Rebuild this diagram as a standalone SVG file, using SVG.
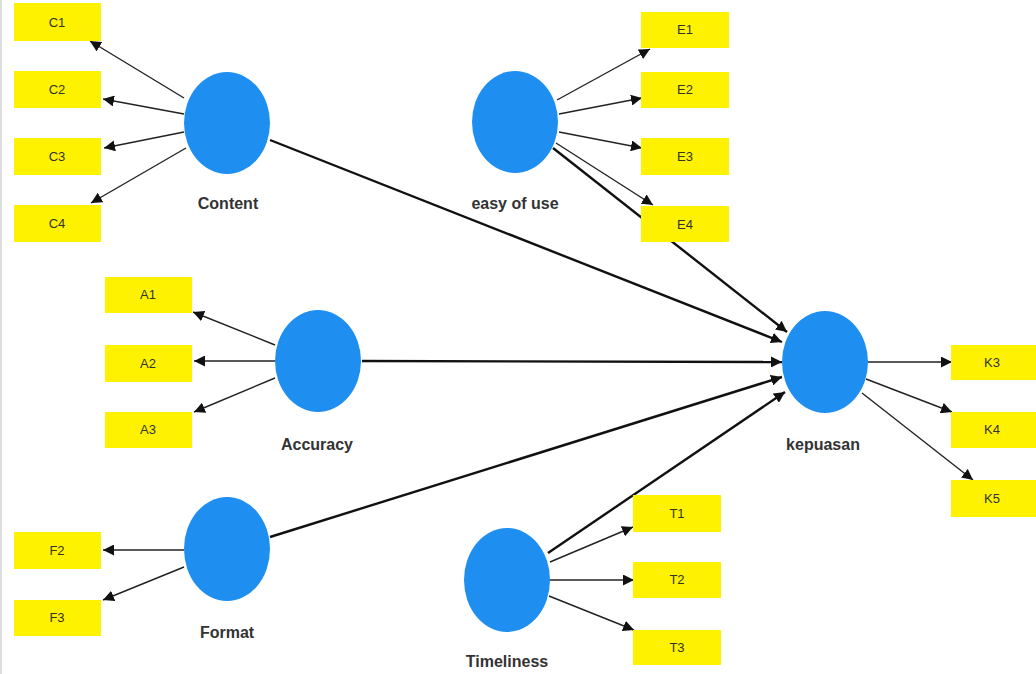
<svg xmlns="http://www.w3.org/2000/svg" width="1036" height="674" viewBox="0 0 1036 674">
<defs>
<marker id="ah" viewBox="0 0 10 10" refX="10" refY="5" markerWidth="11" markerHeight="11" markerUnits="userSpaceOnUse" orient="auto">
<path d="M0,0 L10,5 L0,10 z" fill="#111"/>
</marker>
<style>
.box{fill:#FFF200;}
.lv{fill:#1E8FF0;}
.bt{font-family:"Liberation Sans Narrow","Liberation Sans",Arial,sans-serif;font-size:13px;fill:#333;text-anchor:middle;}
.nt{font-family:"Liberation Sans Narrow","Liberation Sans",Arial,sans-serif;font-size:16px;font-weight:bold;fill:#333;text-anchor:middle;}
.m{stroke:#222;stroke-width:1.4;fill:none;marker-end:url(#ah);}
.s{stroke:#111;stroke-width:2.4;fill:none;marker-end:url(#ah);}
</style>
</defs>
<rect x="0" y="0" width="1036" height="674" fill="#fff"/>
<line x1="1" y1="0" x2="1" y2="674" stroke="#ddd" stroke-width="2"/>
<g id="connectors">
<line class="s" x1="270" y1="140" x2="782" y2="342"/>
<line class="s" x1="553" y1="148" x2="787" y2="332"/>
<line class="s" x1="362" y1="361" x2="782" y2="362"/>
<line class="s" x1="270" y1="537" x2="782" y2="377"/>
<line class="s" x1="548" y1="553" x2="785" y2="392"/>
<line class="m" x1="184" y1="98" x2="90" y2="41"/>
<line class="m" x1="184" y1="114" x2="103" y2="99"/>
<line class="m" x1="184" y1="132" x2="104" y2="148"/>
<line class="m" x1="186" y1="148" x2="91" y2="203"/>
<line class="m" x1="557" y1="100" x2="650" y2="49"/>
<line class="m" x1="559" y1="114" x2="642" y2="98"/>
<line class="m" x1="559" y1="132" x2="642" y2="148"/>
<line class="m" x1="556" y1="143" x2="653" y2="205"/>
<line class="m" x1="275" y1="345" x2="193" y2="312"/>
<line class="m" x1="275" y1="361" x2="194" y2="361"/>
<line class="m" x1="275" y1="378" x2="194" y2="412"/>
<line class="m" x1="184" y1="550" x2="103" y2="550"/>
<line class="m" x1="184" y1="567" x2="103" y2="600"/>
<line class="m" x1="550" y1="562" x2="633" y2="527"/>
<line class="m" x1="550" y1="580" x2="634" y2="580"/>
<line class="m" x1="549" y1="596" x2="634" y2="630"/>
<line class="m" x1="868" y1="362" x2="952" y2="362"/>
<line class="m" x1="866" y1="379" x2="952" y2="412"/>
<line class="m" x1="862" y1="393" x2="973" y2="480"/>
</g>
<g id="C1"><rect class="box" x="14" y="3" width="87" height="38"/><text class="bt" x="57" y="27">C1</text></g>
<g id="C2"><rect class="box" x="14" y="71" width="87" height="37"/><text class="bt" x="57" y="94">C2</text></g>
<g id="C3"><rect class="box" x="14" y="138" width="87" height="37"/><text class="bt" x="57" y="161">C3</text></g>
<g id="C4"><rect class="box" x="14" y="205" width="87" height="37"/><text class="bt" x="57" y="228">C4</text></g>
<g id="Content"><ellipse class="lv" cx="227" cy="123" rx="43" ry="51"/><text class="nt" x="228" y="209">Content</text></g>
<g id="E1"><rect class="box" x="641" y="12" width="88" height="36"/><text class="bt" x="685" y="34">E1</text></g>
<g id="E2"><rect class="box" x="641" y="72" width="88" height="36"/><text class="bt" x="685" y="94">E2</text></g>
<g id="E3"><rect class="box" x="641" y="138" width="88" height="37"/><text class="bt" x="685" y="161">E3</text></g>
<g id="E4"><rect class="box" x="641" y="206" width="88" height="36"/><text class="bt" x="685" y="229">E4</text></g>
<g id="easy"><ellipse class="lv" cx="515" cy="122" rx="43" ry="51"/><text class="nt" x="515" y="209">easy of use</text></g>
<g id="A1"><rect class="box" x="105" y="277" width="87" height="36"/><text class="bt" x="148" y="299">A1</text></g>
<g id="A2"><rect class="box" x="105" y="345" width="87" height="37"/><text class="bt" x="148" y="368">A2</text></g>
<g id="A3"><rect class="box" x="105" y="412" width="87" height="36"/><text class="bt" x="148" y="434">A3</text></g>
<g id="Accuracy"><ellipse class="lv" cx="318" cy="361" rx="43" ry="51"/><text class="nt" x="317" y="450">Accuracy</text></g>
<g id="F2"><rect class="box" x="14" y="532" width="87" height="37"/><text class="bt" x="57" y="555">F2</text></g>
<g id="F3"><rect class="box" x="14" y="600" width="87" height="36"/><text class="bt" x="57" y="622">F3</text></g>
<g id="Format"><ellipse class="lv" cx="227" cy="549" rx="43" ry="52"/><text class="nt" x="227" y="638">Format</text></g>
<g id="T1"><rect class="box" x="633" y="495" width="88" height="37"/><text class="bt" x="677" y="518">T1</text></g>
<g id="T2"><rect class="box" x="633" y="562" width="88" height="36"/><text class="bt" x="677" y="584">T2</text></g>
<g id="T3"><rect class="box" x="633" y="630" width="88" height="35"/><text class="bt" x="677" y="652">T3</text></g>
<g id="Timeliness"><ellipse class="lv" cx="507" cy="580" rx="43" ry="52"/><text class="nt" x="507" y="667">Timeliness</text></g>
<g id="K3"><rect class="box" x="951" y="345" width="85" height="35"/><text class="bt" x="992" y="367">K3</text></g>
<g id="K4"><rect class="box" x="951" y="412" width="85" height="36"/><text class="bt" x="992" y="434">K4</text></g>
<g id="K5"><rect class="box" x="951" y="480" width="85" height="37"/><text class="bt" x="992" y="503">K5</text></g>
<g id="kepuasan"><ellipse class="lv" cx="825" cy="362" rx="43" ry="51"/><text class="nt" x="823" y="450">kepuasan</text></g>
</svg>
